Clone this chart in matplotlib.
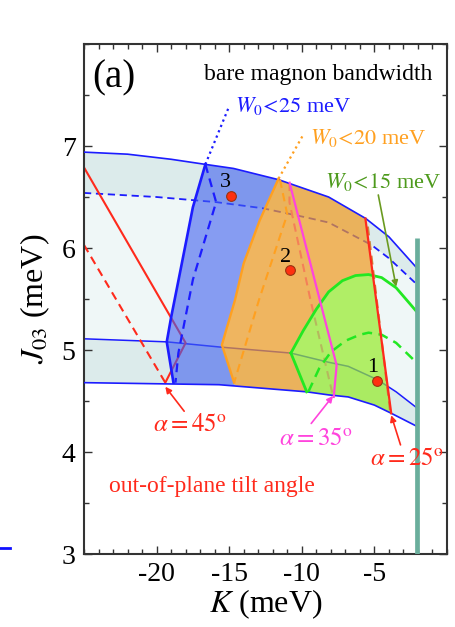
import numpy as np
import matplotlib
matplotlib.use("Agg")
import matplotlib.pyplot as plt
from matplotlib.patches import Polygon
from matplotlib.lines import Line2D

plt.rcParams["font.family"] = ["Liberation Serif", "DejaVu Serif"]
plt.rcParams["mathtext.fontset"] = "stix"
plt.rcParams["axes.unicode_minus"] = False

# ---- boundary curves of the allowed (K, J03) region ----
upper_K = [-25, -22, -19, -16.64, -14.7, -11.6, -8.15, -5.6, -4.0, -2.05]
upper_J = [6.94, 6.92, 6.87, 6.82, 6.78, 6.67, 6.50, 6.29, 6.11, 5.80]

upper_dash_K = [-25, -20, -15.9, -12.7, -9.7, -8.15, -5.2, -4.0, -2.05]
upper_dash_J = [6.54, 6.50, 6.45, 6.39, 6.30, 6.25, 6.03, 5.90, 5.64]

middle_K = [-25, -19.3, -15.7, -10.75, -8.15, -6.8, -4.8, -3.5, -2.05]
middle_J = [5.11, 5.08, 5.03, 4.97, 4.88, 4.84, 4.71, 4.59, 4.43]

lower_K = [-25, -15.7, -9.66, -8.15, -6.8, -5.0, -3.84, -2.05]
lower_J = [4.68, 4.66, 4.59, 4.56, 4.54, 4.46, 4.38, 4.25]

# ---- bandwidth contours ----
w25_K = [-16.64, -17.5, -18.4, -19.0, -19.3, -18.84]
w25_J = [6.82, 6.40, 5.75, 5.32, 5.08, 4.68]
w25_dash_K = [-16.64, -15.9, -17.5, -18.5, -18.7]
w25_dash_J = [6.82, 6.45, 5.69, 4.97, 4.68]
w25_dot_K = [-16.64, -15.0]
w25_dot_J = [6.82, 7.39]

w20_K = [-11.6, -12.9, -14.0, -14.6, -15.2, -15.5, -14.66]
w20_J = [6.68, 6.27, 5.85, 5.49, 5.20, 5.05, 4.68]
w20_dash_K = [-11.5, -11.0, -12.95, -14.66]
w20_dash_J = [6.67, 6.33, 5.49, 4.68]
w20_dot_K = [-11.6, -9.9]
w20_dot_J = [6.68, 7.11]

w15_K = [-10.75, -9.9, -9.0, -8.15, -7.2, -6.3, -5.4, -4.5, -3.5, -2.05]
w15_J = [4.97, 5.19, 5.40, 5.57, 5.68, 5.73, 5.74, 5.71, 5.61, 5.37]
w15_left_K = [-10.75, -9.66]
w15_left_J = [4.97, 4.59]
w15_dash_K = [-9.55, -8.8, -8.0, -7.0, -6.0, -5.4, -4.5, -3.5, -2.05]
w15_dash_J = [4.59, 4.82, 4.98, 5.09, 5.15, 5.17, 5.15, 5.07, 4.87]

# ---- tilt-angle contours ----
a45_K = [-25, -18.0, -19.4]
a45_J = [6.79, 5.07, 4.68]
a45_dash_K = [-25, -19.4]
a45_dash_J = [6.03, 4.68]

a35_K = [-10.84, -7.6, -7.8]
a35_J = [6.64, 4.85, 4.54]
a35_dash_K = [-10.84, -10.85, -9.4, -7.9]
a35_dash_J = [6.64, 6.45, 5.49, 4.58]

a25_K = [-5.62, -3.84]
a25_J = [6.29, 4.38]
a25_dash_K = [-5.45, -3.92]
a25_dash_J = [6.21, 4.41]

# ---- marked parameter sets ----
pts_K = [-4.8, -10.8, -14.9]
pts_J = [4.70, 5.78, 6.51]
pts_lab = ["1", "2", "3"]

# boundary of the numerically accessible range
strip_K = -2.03
strip_J = [6.1, 3.0]

xticks = [-20, -15, -10, -5]
yticks = [3, 4, 5, 6, 7]

BLUE = "#1c1cff"
RED = "#ff2a1c"
ORANGE = "#ffa020"
PINK = "#ff44dd"
GREEN = "#22e822"


def pts(K, J):
    return np.column_stack([K, J]).astype(float)


def extend(p0, p1, j_to):
    d = p1 - p0
    t = (j_to - p1[1]) / d[1]
    return p1 + t * d


def crossing(a, b):
    for i in range(len(a) - 1):
        p, r = a[i], a[i + 1] - a[i]
        for j in range(len(b) - 1):
            q, s = b[j], b[j + 1] - b[j]
            den = r[0] * s[1] - r[1] * s[0]
            if abs(den) < 1e-12:
                continue
            t = ((q - p)[0] * s[1] - (q - p)[1] * s[0]) / den
            u = ((q - p)[0] * r[1] - (q - p)[1] * r[0]) / den
            if 0 <= t <= 1 and 0 <= u <= 1:
                return i, p + t * r
    return None


upper = pts(upper_K, upper_J)
upper_d = pts(upper_dash_K, upper_dash_J)
middle = pts(middle_K, middle_J)
lower = pts(lower_K, lower_J)
w25 = pts(w25_K, w25_J)
w25_dot = pts(w25_dot_K, w25_dot_J)
w20 = pts(w20_K, w20_J)
w20_dot = pts(w20_dot_K, w20_dot_J)
w15 = pts(w15_K, w15_J)
w15_left = pts(w15_left_K, w15_left_J)
a25 = pts(a25_K, a25_J)

fig = plt.figure(figsize=(4.56, 6.27), dpi=100)
ax = fig.add_axes([0.1842, 0.1164, 0.796, 0.8134])
ax.set_xlim(-25, 0)
ax.set_ylim(3, 8)

# ---- band shading ----
band = Polygon(np.vstack([upper, lower[::-1]]), closed=True,
               facecolor="#eff7f7", edgecolor="none", zorder=1)
ax.add_patch(band)
ax.add_patch(Polygon(np.vstack([upper, upper_d[::-1]]), closed=True,
                     facecolor="#dcebeb", edgecolor="none", zorder=1))
ax.add_patch(Polygon(np.vstack([middle, lower[::-1]]), closed=True,
                     facecolor="#dcebeb", edgecolor="none", zorder=1))

# ---- lines lying underneath the coloured regions ----
ax.plot(middle_K, middle_J, color=BLUE, lw=1.1, zorder=2)
ax.plot(upper_dash_K, upper_dash_J, color=BLUE, lw=1.3, ls=(0, (4, 2.6)), zorder=2)
ax.plot(a45_K, a45_J, color=RED, lw=1.5, zorder=2)
ax.plot(a45_dash_K, a45_dash_J, color=RED, lw=1.5, ls=(0, (4, 2.6)), zorder=2)
ax.plot(a35_dash_K, a35_dash_J, color=PINK, lw=1.5, ls=(0, (4, 2.6)), zorder=2)

# ---- coloured regions (clipped to the band) ----
low_w25 = extend(w25[-2], w25[-1], 4.0)
low_w20 = extend(w20[-2], w20[-1], 4.0)
low_w15 = extend(w15_left[0], w15_left[1], 4.0)
low_a25 = extend(a25[0], a25[1], 4.0)
top_a25 = extend(a25[1], a25[0], 7.3)
idx, cross = crossing(w15, a25)

blue_poly = np.vstack([w25_dot[1:], w25, [low_w25, low_w20], w20[::-1], w20_dot[1:]])
orange_poly = np.vstack([w20_dot[1:], w20, [low_w20, low_w15], w15_left[::-1],
                         w15[1:idx + 1], [cross, a25[0], top_a25]])
green_poly = np.vstack([w15[:idx + 1], [cross, a25[1], low_a25, low_w15], w15_left[1:]])

for poly, col, alpha in [(blue_poly, "#4060f0", 0.6),
                         (orange_poly, "#f09a20", 0.7),
                         (green_poly, "#96eb28", 0.7)]:
    patch = Polygon(poly, closed=True, facecolor=col, alpha=alpha,
                    edgecolor="none", zorder=3)
    ax.add_patch(patch)
    patch.set_clip_path(band)

# ---- lines on top ----
ax.plot(upper_K, upper_J, color=BLUE, lw=1.2, zorder=4)
ax.plot(lower_K, lower_J, color=BLUE, lw=1.2, zorder=4)

ax.plot(w25_K, w25_J, color=BLUE, lw=1.9, zorder=4)
ax.plot(w25_dash_K, w25_dash_J, color=BLUE, lw=1.6, ls=(0, (4, 2.6)), zorder=4)
ax.plot(w25_dot_K, w25_dot_J, color=BLUE, lw=1.6, ls=(0, (1, 1.6)), zorder=4)

ax.plot(w20_K, w20_J, color=ORANGE, lw=1.7, zorder=4)
ax.plot(w20_dash_K, w20_dash_J, color=ORANGE, lw=1.5, ls=(0, (4, 2.6)), zorder=4)
ax.plot(w20_dot_K, w20_dot_J, color=ORANGE, lw=1.6, ls=(0, (1, 1.6)), zorder=4)

ax.plot(w15_K, w15_J, color=GREEN, lw=2.0, zorder=4)
ax.plot(w15_left_K, w15_left_J, color=GREEN, lw=2.0, zorder=4)
ax.plot(w15_dash_K, w15_dash_J, color=GREEN, lw=1.8, ls=(0, (4, 2.6)), zorder=4)

ax.plot(a35_K, a35_J, color=PINK, lw=1.6, zorder=4)
ax.plot(a25_dash_K, a25_dash_J, color="#cc8840", lw=1.6, ls=(0, (4, 2.6)), zorder=4)
ax.plot(a25_K, a25_J, color=RED, lw=1.6, zorder=4)

ax.plot([strip_K, strip_K], strip_J, color="#6aae9c", lw=3.4, zorder=5,
        solid_capstyle="butt")

ax.plot(pts_K, pts_J, "o", ms=7, mfc="#ff3010", mec="#993311", mew=0.8, zorder=6)
for k, j, s in zip(pts_K, pts_J, pts_lab):
    ax.text(k - 0.35, j + 0.13, s, fontsize=16, ha="center", va="center", zorder=6)

# ---- annotations ----
ax.text(-24.45, 7.67, "(a)", fontsize=28, ha="left", va="center")
ax.text(-1.0, 7.70, "bare magnon bandwidth", fontsize=17, ha="right", va="center")

ax.text(-14.6, 7.39, r"$W_0\!<\!25$ meV", fontsize=16, color=BLUE, ha="left", va="center")
ax.text(-9.4, 7.08, r"$W_0\!<\!20$ meV", fontsize=16, color=ORANGE, ha="left", va="center")
ax.text(-8.4, 6.65, r"$W_0\!<\!15$ meV", fontsize=16, color="#4d9a1c", ha="left", va="center")

ax.text(-17.7, 4.26, r"$\alpha = 45^{\mathrm{o}}$", fontsize=18, color=RED, ha="center", va="center")
ax.text(-9.05, 4.13, r"$\alpha = 35^{\mathrm{o}}$", fontsize=18, color=PINK, ha="center", va="center")
ax.text(-2.75, 3.93, r"$\alpha = 25^{\mathrm{o}}$", fontsize=18, color=RED, ha="center", va="center",
        zorder=7)
ax.text(-16.2, 3.66, "out-of-plane tilt angle", fontsize=17, color=RED, ha="center", va="center")

arrow_kw = dict(arrowstyle="-|>", lw=1.2, mutation_scale=9, shrinkA=0, shrinkB=0)
ax.annotate("", xy=(-19.4, 4.64), xytext=(-18.1, 4.40), arrowprops=dict(color=RED, **arrow_kw), zorder=7)
ax.annotate("", xy=(-7.85, 4.55), xytext=(-9.35, 4.28), arrowprops=dict(color=PINK, **arrow_kw), zorder=7)
ax.annotate("", xy=(-3.84, 4.36), xytext=(-3.2, 4.07), arrowprops=dict(color=RED, **arrow_kw), zorder=7)
ax.annotate("", xy=(-3.5, 5.62), xytext=(-4.73, 6.52), arrowprops=dict(color="#6a9a20", **arrow_kw), zorder=7)

# ---- axes styling ----
ax.set_xticks(xticks)
ax.set_xticklabels([str(v) for v in xticks])
ax.set_yticks(yticks)
ax.set_yticklabels([str(v) for v in yticks])
ax.set_xticks(np.arange(-25, 0.01, 1), minor=True)
ax.set_yticks(np.arange(3, 8.01, 0.5), minor=True)
ax.tick_params(which="both", direction="in", top=True, right=True, width=1.0,
               color="#333333")
ax.tick_params(which="major", length=6, labelsize=20, pad=6)
ax.tick_params(which="minor", length=3.5)
for sp in ax.spines.values():
    sp.set_linewidth(1.5)
    sp.set_color("#333333")

ax.set_xlabel(r"$K$ (meV)", fontsize=23, labelpad=0)
ax.set_ylabel(r"$J_{03}$ (meV)", fontsize=23, labelpad=7)

fig.add_artist(Line2D([0, 10 / 456], [1 - 548 / 627, 1 - 548 / 627],
                      color="#1010ff", lw=2.0, transform=fig.transFigure))

fig.savefig("out.png", dpi=100)
